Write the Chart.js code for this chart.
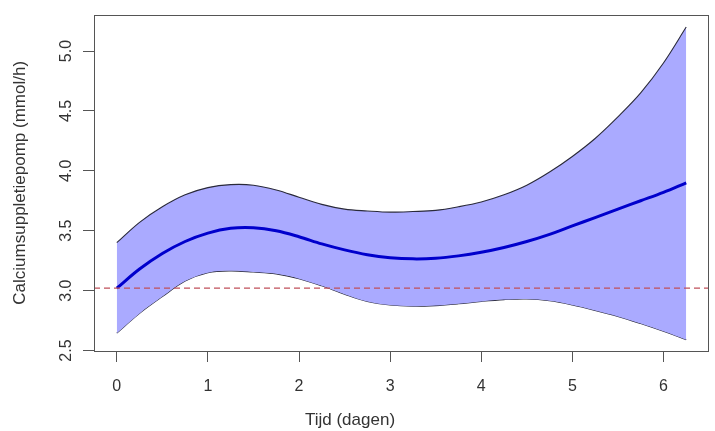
<!DOCTYPE html>
<html>
<head>
<meta charset="utf-8">
<script src="https://cdn.jsdelivr.net/npm/chart.js@4"></script>
<style>
  html, body { margin: 0; padding: 0; background: #fff; }
  #wrap { width: 715px; height: 431px; position: relative; }
</style>
</head>
<body>
<div id="wrap"><canvas id="fitChart"></canvas></div>
<script>
const days = [0, 0.25, 0.5, 0.75, 1, 1.25, 1.5, 1.75, 2, 2.25, 2.5, 2.75, 3, 3.25, 3.5, 3.75, 4, 4.25, 4.5, 4.75, 5, 5.25, 5.5, 5.75, 6, 6.25];
const upperCI = [3.40, 3.57, 3.70, 3.80, 3.86, 3.885, 3.88, 3.84, 3.78, 3.72, 3.68, 3.665, 3.655, 3.66, 3.67, 3.70, 3.74, 3.80, 3.88, 3.99, 4.12, 4.27, 4.45, 4.65, 4.90, 5.20];
const meanFit = [3.02, 3.18, 3.31, 3.41, 3.48, 3.52, 3.525, 3.50, 3.45, 3.39, 3.34, 3.30, 3.275, 3.265, 3.27, 3.29, 3.32, 3.36, 3.41, 3.47, 3.54, 3.61, 3.68, 3.75, 3.82, 3.90];
const lowerCI = [2.645, 2.81, 2.95, 3.08, 3.15, 3.165, 3.155, 3.14, 3.10, 3.04, 2.97, 2.91, 2.88, 2.87, 2.875, 2.89, 2.91, 2.925, 2.93, 2.915, 2.88, 2.835, 2.785, 2.725, 2.66, 2.59];
const refLevel = 3.02;
const xTicks = [0, 1, 2, 3, 4, 5, 6];
const yTicks = [2.5, 3, 3.5, 4, 4.5, 5];
const xRange = [-0.25, 6.5];
const yRange = [2.496, 5.304];
const xLabel = "Tijd (dagen)";
const yLabel = "Calciumsuppletiepomp (mmol/h)";

const FONT = "'Liberation Sans', Arial, sans-serif";
const INK = "#333";

const pts = ys => days.map((d, i) => ({x: d, y: ys[i]}));

// box around the plot + x axis title (R puts it off-centre here)
const boxPlugin = {
  id: "box",
  afterDraw(chart) {
    const {ctx, chartArea: a} = chart;
    ctx.save();
    ctx.strokeStyle = "#555";
    ctx.lineWidth = 1;
    ctx.strokeRect(Math.round(a.left) + 0.5, Math.round(a.top) + 0.5,
      Math.round(a.right - a.left) - 1, Math.round(a.bottom - a.top));
    ctx.fillStyle = INK;
    ctx.font = "17px " + FONT;
    ctx.textAlign = "center";
    ctx.textBaseline = "middle";
    ctx.fillText(xLabel, 350, 420);
    ctx.restore();
  }
};

new Chart(document.getElementById("fitChart"), {
  type: "line",
  data: {
    datasets: [
      {
        label: "ref",
        data: [{x: xRange[0], y: refLevel}, {x: xRange[1], y: refLevel}],
        borderColor: "#c0505a",
        borderWidth: 1.3,
        borderDash: [6, 4],
        pointRadius: 0,
        fill: false
      },
      {
        label: "fit",
        data: pts(meanFit),
        borderColor: "#0000cc",
        borderWidth: 3,
        pointRadius: 0,
        tension: 0.35,
        fill: false
      },
      {
        label: "upper",
        data: pts(upperCI),
        borderColor: "#2a2a3a",
        borderWidth: 1.1,
        pointRadius: 0,
        tension: 0.35,
        fill: 3,
        backgroundColor: "#aaaaff"
      },
      {
        label: "lower",
        data: pts(lowerCI),
        borderColor: "#2a2a3a",
        borderWidth: 1.1,
        pointRadius: 0,
        tension: 0.35,
        fill: false
      }
    ]
  },
  options: {
    responsive: true,
    maintainAspectRatio: false,
    animation: false,
    layout: {padding: {top: 13, right: 6, left: 0, bottom: 0}},
    plugins: {legend: {display: false}, tooltip: {enabled: false}},
    scales: {
      x: {
        type: "linear",
        min: xRange[0],
        max: xRange[1],
        afterBuildTicks: s => { s.ticks = xTicks.map(v => ({value: v})); },
        afterFit: s => { s.height = 80; },
        grid: {drawOnChartArea: false, drawTicks: true, tickLength: 11, color: "#555"},
        border: {display: false},
        ticks: {color: INK, font: {family: FONT, size: 16}, padding: 15, maxRotation: 0}
      },
      y: {
        type: "linear",
        min: yRange[0],
        max: yRange[1],
        afterBuildTicks: s => { s.ticks = yTicks.map(v => ({value: v})); },
        afterFit: s => { s.width = 94; },
        grid: {drawOnChartArea: false, drawTicks: true, tickLength: 11, color: "#555"},
        border: {display: false},
        ticks: {
          color: INK, font: {family: FONT, size: 16}, padding: 5,
          minRotation: 90, maxRotation: 90, crossAlign: "center",
          callback: v => v.toFixed(1)
        },
        title: {display: true, text: yLabel, color: INK, font: {family: FONT, size: 17}, padding: {top: 10, bottom: 0}}
      }
    }
  },
  plugins: [boxPlugin]
});
</script>
</body>
</html>
